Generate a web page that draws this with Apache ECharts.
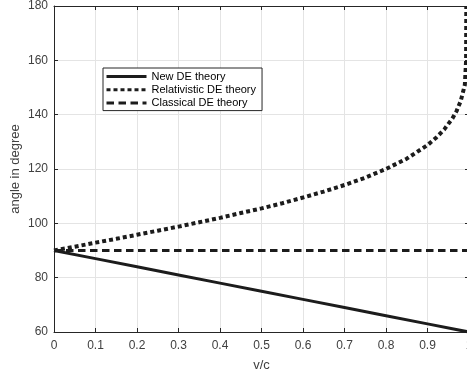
<!DOCTYPE html>
<html>
<head>
<meta charset="utf-8">
<script src="https://cdn.jsdelivr.net/npm/echarts@6/dist/echarts.min.js"></script>
<style>
html,body{margin:0;padding:0;background:#fff;}
#chart{width:467px;height:380px;}
</style>
</head>
<body>
<div id="chart"></div>
<script>
// Data
const vNew = [0, 0.1, 0.2, 0.3, 0.4, 0.5, 0.6, 0.7, 0.8, 0.9, 1];
const angleNew = [90, 87, 84, 81, 78, 75, 72, 69, 66, 63, 60];

const vRel = [0, 0.05, 0.1, 0.15, 0.2, 0.25, 0.3, 0.35, 0.4, 0.45, 0.5, 0.55, 0.6, 0.65, 0.7, 0.75, 0.8, 0.85, 0.9, 0.92, 0.94, 0.96, 0.97, 0.98, 0.99, 0.993, 0.9935];
const angleRel = [90, 91.4, 92.9, 94.3, 95.8, 97.3, 98.8, 100.4, 102.0, 103.8, 105.5, 107.4, 109.5, 111.7, 114.1, 116.8, 120, 123.8, 128.8, 131.4, 134.5, 138.6, 141.3, 145, 151, 160, 180];

const vClassical = [0, 1];
const angleClassical = [90, 90];

const seriesNames = ['New DE theory', 'Relativistic DE theory', 'Classical DE theory'];
const xTicks = [0, 0.1, 0.2, 0.3, 0.4, 0.5, 0.6, 0.7, 0.8, 0.9, 1];
const yTicks = [60, 80, 100, 120, 140, 160, 180];

function pairs(xs, ys) { return xs.map((x, i) => [x, ys[i]]); }

const axisColor = '#262626';
const textColor = '#404040';
const gridColor = '#e4e4e4';
const lineColor = '#1c1c1c';
const font = 'Liberation Sans, Arial, sans-serif';

const chart = echarts.init(document.getElementById('chart'), null, {renderer: 'canvas'});
chart.setOption({
  backgroundColor: '#ffffff',
  animation: false,
  grid: {left: 54, top: 6, width: 415, height: 326, containLabel: false, outerBoundsMode: 'none'},
  legend: {
    orient: 'vertical',
    left: 103, top: 68,
    backgroundColor: '#ffffff',
    borderColor: axisColor, borderWidth: 1,
    padding: [3, 6, 2, 2],
    itemWidth: 40, itemHeight: 14, itemGap: 2,
    itemStyle: {opacity: 0},
    lineStyle: {width: 3},
    textStyle: {fontFamily: font, fontSize: 11, color: '#000'},
    data: seriesNames
  },
  xAxis: [{
    type: 'value', min: 0, max: 1, interval: 0.1,
    name: 'v/c', nameLocation: 'middle', nameGap: 27, nameMoveOverlap: false,
    nameTextStyle: {fontFamily: font, fontSize: 13, color: textColor},
    axisLine: {show: true, onZero: false, lineStyle: {color: axisColor, width: 1}},
    axisTick: {show: true, inside: true, length: 4, lineStyle: {color: axisColor}},
    axisLabel: {
      margin: 8, fontFamily: font, fontSize: 12, color: textColor,
      showMinLabel: true, showMaxLabel: true, hideOverlap: false,
      formatter: v => { const t = xTicks.find(k => Math.abs(k - v) < 1e-9); return t === undefined ? '' : String(t); }
    },
    splitLine: {show: true, lineStyle: {color: gridColor, width: 1}}
  }, {
    type: 'value', min: 0, max: 1, interval: 0.1, position: 'top',
    axisLine: {show: true, onZero: false, lineStyle: {color: axisColor, width: 1}},
    axisTick: {show: true, inside: true, length: 4, lineStyle: {color: axisColor}},
    axisLabel: {show: false}, splitLine: {show: false}
  }],
  yAxis: [{
    type: 'value', min: 60, max: 180, interval: 20,
    name: 'angle in degree', nameLocation: 'middle', nameGap: 32, nameRotate: 90, nameMoveOverlap: false,
    nameTextStyle: {fontFamily: font, fontSize: 13, color: textColor},
    axisLine: {show: true, onZero: false, lineStyle: {color: axisColor, width: 1}},
    axisTick: {show: true, inside: true, length: 4, lineStyle: {color: axisColor}},
    axisLabel: {
      margin: 6, fontFamily: font, fontSize: 12, color: textColor,
      formatter: v => { const t = yTicks.find(k => k === v); return t === undefined ? '' : String(t); }
    },
    splitLine: {show: true, lineStyle: {color: gridColor, width: 1}}
  }, {
    type: 'value', min: 60, max: 180, interval: 20, position: 'right',
    axisLine: {show: true, onZero: false, lineStyle: {color: axisColor, width: 1}},
    axisTick: {show: true, inside: true, length: 4, lineStyle: {color: axisColor}},
    axisLabel: {show: false}, splitLine: {show: false}
  }],
  series: [{
    name: seriesNames[0], type: 'line', symbol: 'none', clip: true,
    data: pairs(vNew, angleNew),
    lineStyle: {color: lineColor, width: 3, type: 'solid'},
    itemStyle: {color: lineColor}, z: 3
  }, {
    name: seriesNames[1], type: 'line', symbol: 'none', clip: true,
    data: pairs(vRel, angleRel),
    lineStyle: {color: lineColor, width: 4, type: [4, 3], cap: 'butt'},
    itemStyle: {color: lineColor}, z: 3
  }, {
    name: seriesNames[2], type: 'line', symbol: 'none', clip: true,
    data: pairs(vClassical, angleClassical),
    lineStyle: {color: lineColor, width: 3, type: [7.5, 4.5], cap: 'butt'},
    itemStyle: {color: lineColor}, z: 3
  }]
});
</script>
</body>
</html>
